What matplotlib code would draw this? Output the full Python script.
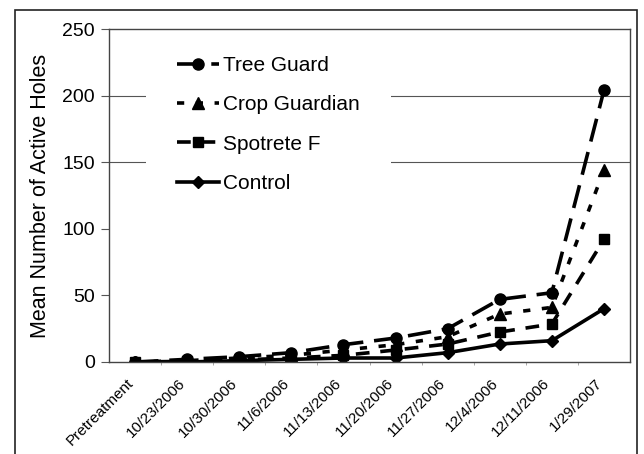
import matplotlib
matplotlib.use("Agg")
import matplotlib.pyplot as plt
from matplotlib.patches import Rectangle
from matplotlib.transforms import ScaledTranslation

plt.rcParams['font.family'] = ['Liberation Sans', 'DejaVu Sans']

categories = ["Pretreatment", "10/23/2006", "10/30/2006", "11/6/2006", "11/13/2006",
              "11/20/2006", "11/27/2006", "12/4/2006", "12/11/2006", "1/29/2007"]
tree_guard = [0, 2, 4, 7, 13, 18, 25, 47, 52, 204]
crop_guardian = [0, 1, 3, 5, 9, 13, 19, 36, 41, 144]
spotrete_f = [0, 0.5, 1.5, 3, 5, 9, 13.5, 22.5, 28.5, 92]
control = [0, 0, 1, 2, 3, 3, 7, 13.5, 16, 40]
yticks = [0, 50, 100, 150, 200, 250]

fig = plt.figure(figsize=(6.44, 4.54), dpi=100)
ax = fig.add_axes([109/644, 1-362/454, (630-109)/644, (362-29)/454])

fig.patches.append(Rectangle((15/644, -0.05), (637-15)/644, 1.05-10/454,
                             transform=fig.transFigure, fill=False,
                             edgecolor='#222222', linewidth=1.2))

x = list(range(len(categories)))
lw = 2.6
ax.plot(x, tree_guard, color='black', lw=lw, dashes=(6.5, 3), marker='o', ms=8,
        label='Tree Guard')
ax.plot(x, crop_guardian, color='black', lw=lw, dashes=(2, 3.2), marker='^', ms=8,
        label='Crop Guardian')
ax.plot(x, spotrete_f, color='black', lw=lw, dashes=(3.8, 3), marker='s', ms=7.5,
        label='Spotrete F')
ax.plot(x, control, color='black', lw=lw, ls='-', marker='D', ms=6,
        label='Control')

for v in (150, 200):
    ax.axhline(v, color='#555555', lw=0.8, zorder=0)

ax.set_xlim(-0.5, len(categories) - 0.5)
ax.set_ylim(0, 250)
ax.set_yticks(yticks)
ax.tick_params(axis='y', labelsize=14, length=6, width=0.8, color='#555555', pad=4)
ax.set_xticks(x)
ax.set_xticklabels(categories, rotation=45, ha='right', rotation_mode='anchor',
                   fontsize=11)
ax.tick_params(axis='x', length=0, pad=8)
offset = ScaledTranslation(-9/100, -3/100, fig.dpi_scale_trans)
for lab in ax.get_xticklabels():
    lab.set_transform(lab.get_transform() + offset)
ax.set_xticks([i + 0.5 for i in x[:-1]], minor=True)
ax.tick_params(axis='x', which='minor', length=2, color='#999999')

ax.set_ylabel('Mean Number of Active Holes', fontsize=15.5, labelpad=8)
for s in ax.spines.values():
    s.set_color('#444444')
    s.set_linewidth(1.0)
    s.set_zorder(3)

leg = ax.legend(loc='upper left', bbox_to_anchor=((146-109)/521, (362-25)/333),
                frameon=True, fontsize=15, handlelength=2.0, labelspacing=0.97,
                handletextpad=0.2, borderpad=1.5, borderaxespad=0)
leg.get_frame().set_edgecolor('none')
leg.get_frame().set_facecolor('white')
leg.get_frame().set_alpha(1)
leg.set_zorder(2.2)

fig.savefig('out.png', dpi=100)
